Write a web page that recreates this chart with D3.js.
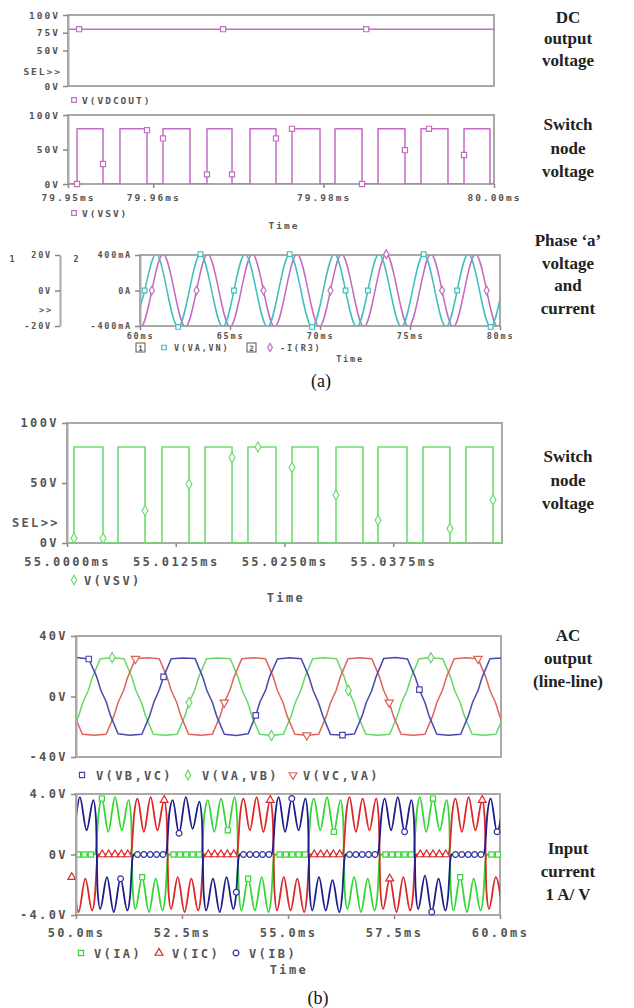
<!DOCTYPE html>
<html>
<head>
<meta charset="utf-8">
<script src="https://cdn.jsdelivr.net/npm/d3@7"></script>
<style>
body { margin: 0; background: #fff; }
.lab { font-family: "DejaVu Sans Mono", monospace; font-weight: bold; fill: #555; }
.side { font-family: "Liberation Serif", "Times New Roman", serif; font-weight: bold; font-size: 17px; fill: #222; text-anchor: middle; }
.cap { font-family: "Liberation Serif", "Times New Roman", serif; font-size: 18px; fill: #111; text-anchor: middle; }
</style>
</head>
<body>
<svg id="fig" width="634" height="1008"></svg>
<script>
// ---------- data ----------

// (a) DC output voltage, V
var dcOut = [[79.95, 80], [80.00, 80]];
var dcMarks = [[79.9513, 80], [79.9682, 80], [79.9850, 80]];

// (a) switch node, edge times in ms, high level in V
var swRiseA = [79.95106, 79.95610, 79.96115, 79.96631, 79.97136, 79.97629, 79.98134, 79.98639, 79.99143, 79.99648];
var swFallA = [79.95411, 79.95927, 79.96432, 79.96925, 79.97441, 79.97958, 79.98451, 79.98955, 79.99460, 79.99953];
var swHighA = 80;
var swMarksA = [[79.95106, 0], [79.95411, 29], [79.95927, 78], [79.96115, 66], [79.96631, 14], [79.96925, 14],
  [79.97441, 66], [79.97629, 80], [79.98451, 0], [79.98955, 49], [79.99237, 80], [79.99648, 42]];

// (a) phase 'a' voltage (V) and current (A)
var vaVN = [[59.64, -20.5], [60.26, 0], [60.88, 20.5], [61.50, 0], [62.12, -20.5], [62.74, 0], [63.36, 20.5], [63.98, 0],
  [64.60, -20.5], [65.22, 0], [65.84, 20.5], [66.46, 0], [67.08, -20.5], [67.70, 0], [68.32, 20.5], [68.94, 0],
  [69.56, -20.5], [70.18, 0], [70.80, 20.5], [71.42, 0], [72.04, -20.5], [72.66, 0], [73.28, 20.5], [73.90, 0],
  [74.52, -20.5], [75.14, 0], [75.76, 20.5], [76.38, 0], [77.00, -20.5], [77.62, 0], [78.24, 20.5], [78.86, 0],
  [79.48, -20.5], [80.10, 0]];
var iR3 = [[59.42, 0], [60.04, -0.41], [60.66, 0], [61.28, 0.41], [61.90, 0], [62.52, -0.41], [63.14, 0], [63.76, 0.41],
  [64.38, 0], [65.00, -0.41], [65.62, 0], [66.24, 0.41], [66.86, 0], [67.48, -0.41], [68.10, 0], [68.72, 0.41],
  [69.34, 0], [69.96, -0.41], [70.58, 0], [71.20, 0.41], [71.82, 0], [72.44, -0.41], [73.06, 0], [73.68, 0.41],
  [74.30, 0], [74.92, -0.41], [75.54, 0], [76.16, 0.41], [76.78, 0], [77.40, -0.41], [78.02, 0], [78.64, 0.41],
  [79.26, 0], [79.88, -0.41], [80.50, 0]];
var vaVNMarks = [[60.26, 0], [62.12, -20.5], [63.36, 20.5], [65.22, 0], [68.32, 20.5], [69.56, -20.5], [71.42, 0],
  [72.66, 0], [75.76, 20.5], [77.62, 0], [79.48, -20.5]];
var iR3Marks = [[60.66, 0], [63.14, 0], [66.86, 0], [70.58, 0], [73.68, 0.41], [76.78, 0], [79.26, 0]];

// (b) switch node
var swRiseB = [55.0008, 55.00586, 55.01092, 55.01586, 55.0208, 55.02586, 55.03092, 55.03575, 55.04092, 55.04586];
var swFallB = [55.00414, 55.00897, 55.01402, 55.01897, 55.02402, 55.02885, 55.03402, 55.03908, 55.04402, 55.04897];
var swHighB = 80;
var swMarksB = [[55.0008, 4], [55.00414, 4], [55.00897, 27], [55.01402, 49], [55.01897, 71], [55.02195, 80],
  [55.02586, 63], [55.03092, 40], [55.03575, 19], [55.04402, 12], [55.04897, 36]];

// (b) AC output line-line voltages, V
var vBC = [[49.23, -13], [49.33, -4], [49.46, 4], [49.56, 13],
  [49.74, 25], [50.02, 25.8], [50.30, 24.8], [50.48, 13.5], [50.58, 4.5], [50.71, -3.5], [50.81, -12.5], [50.99, -24.6], [51.27, -25.6], [51.55, -25], [51.73, -13], [51.83, -4], [51.96, 4.5], [52.06, 13],
  [52.24, 25], [52.52, 25.5], [52.80, 25.2], [52.98, 13], [53.08, 4], [53.21, -4], [53.31, -13], [53.49, -25], [53.77, -25.8], [54.05, -24.7], [54.23, -12.5], [54.33, -3.5], [54.46, 4], [54.56, 13.5],
  [54.74, 24.8], [55.02, 25.6], [55.30, 25], [55.48, 13], [55.58, 4], [55.71, -4.5], [55.81, -13], [55.99, -25.2], [56.27, -25.5], [56.55, -24.8], [56.73, -13], [56.83, -4], [56.96, 4], [57.06, 13],
  [57.24, 25.2], [57.52, 25.8], [57.80, 24.8], [57.98, 13], [58.08, 4.5], [58.21, -4], [58.31, -13], [58.49, -25], [58.77, -25.6], [59.05, -25], [59.23, -13], [59.33, -4], [59.46, 4], [59.56, 13],
  [59.74, 25], [60.02, 25.5], [60.30, 25]];
var vAB = [[49.32, -25], [49.60, -25.6], [49.88, -24.8], [50.06, -13], [50.16, -4], [50.29, 4], [50.39, 13],
  [50.57, 25], [50.85, 25.7], [51.13, 25], [51.31, 13], [51.41, 4], [51.54, -4], [51.64, -13], [51.82, -25], [52.10, -25.6], [52.38, -25], [52.56, -13], [52.66, -4], [52.79, 4], [52.89, 13],
  [53.07, 25], [53.35, 25.5], [53.63, 25], [53.81, 13], [53.91, 4], [54.04, -4], [54.14, -13], [54.32, -25], [54.60, -25.8], [54.88, -25], [55.06, -13], [55.16, -4], [55.29, 4], [55.39, 13],
  [55.57, 25], [55.85, 25.6], [56.13, 25], [56.31, 13], [56.41, 4], [56.54, -4], [56.64, -13], [56.82, -25], [57.10, -25.6], [57.38, -25], [57.56, -13], [57.66, -4], [57.79, 4], [57.89, 13],
  [58.07, 25], [58.35, 25.6], [58.63, 25], [58.81, 13], [58.91, 4], [59.04, -4], [59.14, -13], [59.32, -25], [59.60, -25.6], [59.88, -25], [60.06, -13], [60.16, -4]];
var vCA = [[49.46, 25], [49.64, 13], [49.74, 4], [49.87, -4], [49.97, -13], [50.15, -25], [50.43, -25.6], [50.71, -25], [50.89, -13], [50.99, -4], [51.12, 4], [51.22, 13],
  [51.40, 25], [51.68, 25.6], [51.96, 25], [52.14, 13], [52.24, 4], [52.37, -4], [52.47, -13], [52.65, -25], [52.93, -25.6], [53.21, -25], [53.39, -13], [53.49, -4], [53.62, 4], [53.72, 13],
  [53.90, 25], [54.18, 25.6], [54.46, 25], [54.64, 13], [54.74, 4], [54.87, -4], [54.97, -13], [55.15, -25], [55.43, -25.6], [55.71, -25], [55.89, -13], [55.99, -4], [56.12, 4], [56.22, 13],
  [56.40, 25], [56.68, 25.6], [56.96, 25], [57.14, 13], [57.24, 4], [57.37, -4], [57.47, -13], [57.65, -25], [57.93, -25.6], [58.21, -25], [58.39, -13], [58.49, -4], [58.62, 4], [58.72, 13],
  [58.90, 25], [59.18, 25.6], [59.46, 25], [59.64, 13], [59.74, 4], [59.87, -4], [59.97, -13], [60.15, -25]];
var vBCMarks = [[50.30, 24.8], [52.06, 13], [54.23, -12.5], [56.27, -25.5], [58.08, 4.5]];
var vABMarks = [[50.85, 25.7], [52.66, -4], [54.60, -25.8], [56.41, 4], [58.35, 25.6]];
var vCAMarks = [[51.40, 25], [53.49, -4], [55.43, -25.6], [57.37, -4], [59.46, 25]];

// (b) input currents, V (1 A/V)
var iB = [[49.40, 0], [49.61, 0],
  [49.64, 0.3], [49.70, 2.6], [49.78, 3.7], [49.93, 1.5], [50.09, 3.8], [50.25, 1.6], [50.41, 3.6], [50.47, 2.4], [50.51, -2.4], [50.57, -3.6], [50.73, -1.5], [50.89, -3.8], [51.05, -1.6], [51.21, -3.7], [51.28, -2.6], [51.33, -0.3], [51.36, 0], [52.11, 0],
  [52.14, 0.3], [52.20, 2.7], [52.28, 3.6], [52.43, 1.4], [52.59, 3.8], [52.75, 1.7], [52.91, 3.5], [52.97, 2.3], [53.01, -2.5], [53.07, -3.7], [53.23, -1.6], [53.39, -3.8], [53.55, -1.5], [53.71, -3.6], [53.78, -2.5], [53.83, -0.3], [53.86, 0], [54.61, 0],
  [54.64, 0.3], [54.70, 2.6], [54.78, 3.8], [54.93, 1.5], [55.09, 3.7], [55.25, 1.6], [55.41, 3.7], [55.47, 2.4], [55.51, -2.4], [55.57, -3.7], [55.73, -1.5], [55.89, -3.7], [56.05, -1.7], [56.21, -3.8], [56.28, -2.6], [56.33, -0.3], [56.36, 0], [57.11, 0],
  [57.14, 0.3], [57.20, 2.5], [57.28, 3.7], [57.43, 1.6], [57.59, 3.8], [57.75, 1.5], [57.91, 3.6], [57.97, 2.4], [58.01, -2.3], [58.07, -3.6], [58.23, -1.4], [58.39, -3.8], [58.55, -1.6], [58.71, -3.7], [58.78, -2.6], [58.83, -0.3], [58.86, 0], [59.61, 0],
  [59.64, 0.3], [59.70, 2.6], [59.78, 3.7], [59.93, 1.5], [60.09, 3.8]];
var iA = [[49.48, -1.6], [49.54, -3.7], [49.61, -2.6], [49.66, -0.3], [49.69, 0], [50.44, 0],
  [50.47, 0.3], [50.53, 2.6], [50.61, 3.7], [50.76, 1.5], [50.92, 3.8], [51.08, 1.6], [51.24, 3.6], [51.30, 2.4], [51.34, -2.4], [51.40, -3.6], [51.56, -1.5], [51.72, -3.8], [51.88, -1.6], [52.04, -3.7], [52.11, -2.6], [52.16, -0.3], [52.19, 0], [52.94, 0],
  [52.97, 0.3], [53.03, 2.7], [53.11, 3.6], [53.26, 1.5], [53.42, 3.7], [53.58, 1.6], [53.74, 3.8], [53.80, 2.4], [53.84, -2.4], [53.90, -3.7], [54.06, -1.6], [54.22, -3.7], [54.38, -1.5], [54.54, -3.8], [54.61, -2.6], [54.66, -0.3], [54.69, 0], [55.44, 0],
  [55.47, 0.3], [55.53, 2.6], [55.61, 3.7], [55.76, 1.6], [55.92, 3.8], [56.08, 1.5], [56.24, 3.6], [56.30, 2.4], [56.34, -2.5], [56.40, -3.6], [56.56, -1.5], [56.72, -3.8], [56.88, -1.6], [57.04, -3.7], [57.11, -2.6], [57.16, -0.3], [57.19, 0], [57.94, 0],
  [57.97, 0.3], [58.03, 2.6], [58.11, 3.8], [58.26, 1.5], [58.42, 3.7], [58.58, 1.6], [58.74, 3.6], [58.80, 2.4], [58.84, -2.4], [58.90, -3.7], [59.06, -1.5], [59.22, -3.8], [59.38, -1.6], [59.54, -3.7], [59.61, -2.6], [59.66, -0.3], [59.69, 0], [60.44, 0]];
var iC = [[49.42, 3.7], [49.58, 3.6], [49.64, 2.4],
  [49.68, -2.4], [49.74, -3.6], [49.90, -1.5], [50.06, -3.8], [50.22, -1.6], [50.38, -3.7], [50.45, -2.6], [50.50, -0.3], [50.53, 0], [51.28, 0],
  [51.31, 0.3], [51.37, 2.6], [51.45, 3.7], [51.60, 1.5], [51.76, 3.8], [51.92, 1.6], [52.08, 3.6], [52.14, 2.4], [52.18, -2.4], [52.24, -3.6], [52.40, -1.5], [52.56, -3.8], [52.72, -1.6], [52.88, -3.7], [52.95, -2.6], [53.00, -0.3], [53.03, 0], [53.78, 0],
  [53.81, 0.3], [53.87, 2.6], [53.95, 3.7], [54.10, 1.6], [54.26, 3.8], [54.42, 1.5], [54.58, 3.6], [54.64, 2.4], [54.68, -2.4], [54.74, -3.7], [54.90, -1.5], [55.06, -3.7], [55.22, -1.6], [55.38, -3.8], [55.45, -2.6], [55.50, -0.3], [55.53, 0], [56.28, 0],
  [56.31, 0.3], [56.37, 2.6], [56.45, 3.8], [56.60, 1.5], [56.76, 3.7], [56.92, 1.6], [57.08, 3.7], [57.14, 2.4], [57.18, -2.4], [57.24, -3.6], [57.40, -1.6], [57.56, -3.8], [57.72, -1.5], [57.88, -3.7], [57.95, -2.6], [58.00, -0.3], [58.03, 0], [58.78, 0],
  [58.81, 0.3], [58.87, 2.6], [58.95, 3.7], [59.10, 1.5], [59.26, 3.8], [59.42, 1.6], [59.58, 3.6], [59.64, 2.4], [59.68, -2.4], [59.74, -3.6], [59.90, -1.5], [60.06, -3.8]];
var iAMarks = [[50.05, 0], [50.20, 0], [50.35, 0], [50.61, 3.7], [51.56, -1.5], [52.30, 0], [52.45, 0], [52.60, 0], [52.75, 0], [52.90, 0],
  [53.58, 1.6], [54.06, -1.6], [54.80, 0], [54.95, 0], [55.10, 0], [55.25, 0], [55.40, 0], [56.08, 1.5], [57.30, 0], [57.45, 0],
  [57.60, 0], [57.75, 0], [57.90, 0], [58.42, 3.7], [59.06, -1.5], [59.80, 0], [59.95, 0]];
var iCMarks = [[49.90, -1.5], [50.62, 0], [50.77, 0], [50.92, 0], [51.07, 0], [51.22, 0], [52.08, 3.6], [53.12, 0], [53.27, 0], [53.42, 0],
  [53.57, 0], [53.72, 0], [54.58, 3.6], [55.62, 0], [55.77, 0], [55.92, 0], [56.07, 0], [56.22, 0], [57.40, -1.6], [58.12, 0],
  [58.27, 0], [58.42, 0], [58.57, 0], [58.72, 0], [59.58, 3.6]];
var iBMarks = [[51.05, -1.6], [51.45, 0], [51.60, 0], [51.75, 0], [51.90, 0], [52.05, 0], [52.43, 1.4], [53.78, -2.5], [53.95, 0], [54.10, 0],
  [54.25, 0], [54.40, 0], [54.55, 0], [55.09, 3.7], [56.45, 0], [56.60, 0], [56.75, 0], [56.90, 0], [57.05, 0], [57.75, 1.5],
  [58.39, -3.8], [58.95, 0], [59.10, 0], [59.25, 0], [59.40, 0], [59.55, 0], [59.93, 1.5]];

// tick labels
var tickA2 = [79.95, 79.96, 79.98, 80.00];
var tickA3 = [60, 65, 70, 75, 80];
var tickB4 = [55.0, 55.0125, 55.025, 55.0375];
var tickB6 = [50, 52.5, 55, 57.5, 60];

// ---------- drawing ----------
var svg = d3.select("#fig");
var clipN = 0;
var BOX = "#a9a9a9";

function panel(x0, x1, y0, y1, tdom, vdom) {
  var x = d3.scaleLinear().domain(tdom).range([x0, x1]);
  var y = d3.scaleLinear().domain(vdom).range([y1, y0]);
  var id = "clip" + (clipN++);
  svg.append("clipPath").attr("id", id).append("rect")
    .attr("x", x0).attr("y", y0).attr("width", x1 - x0).attr("height", y1 - y0);
  var g = svg.append("g");
  g.append("rect").attr("x", x0).attr("y", y0).attr("width", x1 - x0).attr("height", y1 - y0)
    .attr("fill", "#fff").attr("stroke", BOX).attr("stroke-width", 2);
  var plot = g.append("g").attr("clip-path", "url(#" + id + ")");
  return {x: x, y: y, g: g, plot: plot, x0: x0, x1: x1, y0: y0, y1: y1};
}

function trace(p, data, color, width, curve) {
  p.plot.append("path").datum(data)
    .attr("fill", "none").attr("stroke", color).attr("stroke-width", width)
    .attr("stroke-linejoin", "round")
    .attr("d", d3.line().x(function(d) { return p.x(d[0]); }).y(function(d) { return p.y(d[1]); })
      .curve(curve || d3.curveLinear));
}

function pulses(rise, fall, high, t0, t1) {
  var pts = [[t0, 0]];
  rise.forEach(function(r, i) {
    pts.push([r, 0], [r, high], [fall[i], high], [fall[i], 0]);
  });
  pts.push([t1, 0]);
  return pts;
}

function marks(p, data, color, type, size, flip) {
  p.g.selectAll(null).data(data).enter().append("path")
    .attr("transform", function(d) { return "translate(" + p.x(d[0]) + "," + p.y(d[1]) + ")" + (flip ? " rotate(180)" : ""); })
    .attr("d", d3.symbol().type(type).size(size))
    .attr("fill", "#fff").attr("stroke", color).attr("stroke-width", 1.2);
}

function yAxis(p, scale, xpos, vals, fmt, fs, ls) {
  var g = p.g.append("g").attr("transform", "translate(" + xpos + ",0)")
    .call(d3.axisLeft(scale).tickValues(vals).tickFormat(fmt).tickSize(5).tickSizeOuter(0).tickPadding(3));
  g.select(".domain").attr("stroke", BOX).attr("stroke-width", 2);
  g.selectAll(".tick line").attr("stroke", "#888").attr("stroke-width", 1.5);
  g.selectAll("text").attr("class", "lab").style("font-size", fs + "px").style("letter-spacing", ls + "px");
  return g;
}

function xAxis(p, vals, fmt, fs, ls, off) {
  var g = p.g.append("g").attr("transform", "translate(0," + p.y1 + ")")
    .call(d3.axisBottom(p.x).tickValues(vals).tickFormat(fmt).tickSize(4).tickSizeOuter(0));
  g.select(".domain").remove();
  g.selectAll(".tick line").attr("stroke", "#888").attr("stroke-width", 1.5);
  g.selectAll("text").attr("class", "lab").attr("y", off).attr("dy", null)
    .style("font-size", fs + "px").style("letter-spacing", ls + "px");
}

function label(x, y, txt, fs, ls, anchor) {
  return svg.append("text").attr("class", "lab").attr("x", x).attr("y", y)
    .attr("text-anchor", anchor || "start")
    .style("font-size", fs + "px").style("letter-spacing", ls + "px").text(txt);
}

function legSym(x, y, color, type, size, flip) {
  svg.append("path")
    .attr("transform", "translate(" + x + "," + y + ")" + (flip ? " rotate(180)" : ""))
    .attr("d", d3.symbol().type(type).size(size))
    .attr("fill", "#fff").attr("stroke", color).attr("stroke-width", 1.2);
}

var MAG = "#c36cc3", CYA = "#3fbfbf", LGR = "#6fdc6f";
var fa = 9.5, la = 2;    // small PSpice font (a)
var fc = 8.5, lc = 1.8;  // phase 'a' panel font
var fb = 12, lb = 2.4;   // larger PSpice font (b)

// ---- (a) DC output voltage
var p1 = panel(68, 494, 15, 86, [79.95, 80.00], [0, 100]);
trace(p1, dcOut, MAG, 1.5);
marks(p1, dcMarks, MAG, d3.symbolSquare, 26);
yAxis(p1, p1.y, 68, [0, 50, 75, 100], function(d) { return d + "V"; }, fa, la);
label(62, 75, "SEL>>", fa, la, "end");
legSym(74, 100, MAG, d3.symbolSquare, 22);
label(82, 103.5, "V(VDCOUT)", fa, la);

// ---- (a) switch node voltage
var p2 = panel(68, 494, 115, 184, [79.95, 80.00], [0, 100]);
trace(p2, pulses(swRiseA, swFallA, swHighA, 79.95, 80.00), MAG, 1.5);
marks(p2, swMarksA, MAG, d3.symbolSquare, 26);
yAxis(p2, p2.y, 68, [0, 50, 100], function(d) { return d + "V"; }, fa, la);
xAxis(p2, tickA2, function(d) { return d.toFixed(2) + "ms"; }, fa, la, 17);
legSym(74, 213, MAG, d3.symbolSquare, 22);
label(82, 216.5, "V(VSV)", fa, la);
label(284, 228.5, "Time", fa, la, "middle");

// ---- (a) phase 'a' voltage and current
var p3 = panel(140, 500, 255, 326, [60, 80], [-0.4, 0.4]);
var yV3 = d3.scaleLinear().domain([-20, 20]).range([326, 255]);
trace(p3, iR3, MAG, 1.5, d3.curveNatural);
trace({x: p3.x, y: yV3, plot: p3.plot}, vaVN, CYA, 1.5, d3.curveNatural);
marks({x: p3.x, y: yV3, g: p3.g}, vaVNMarks, CYA, d3.symbolSquare, 22);
marks(p3, iR3Marks, MAG, d3.symbolDiamond, 22);
yAxis(p3, yV3, 60, [-20, 0, 20], function(d) { return d + "V"; }, fc, lc);
yAxis(p3, p3.y, 140, [-0.4, 0, 0.4], function(d) { return d === 0 ? "0A" : (d * 1000) + "mA"; }, fc, lc);
label(46, 313, ">>", fc, lc, "middle");
label(13, 262, "1", fc, lc, "middle");
label(77, 262, "2", fc, lc, "middle");
xAxis(p3, tickA3, function(d) { return d + "ms"; }, fc, lc, 13);
svg.append("rect").attr("x", 136).attr("y", 343).attr("width", 9).attr("height", 9).attr("fill", "none").attr("stroke", "#555");
label(140.5, 350.5, "1", 7.5, 0, "middle");
legSym(164, 347.5, CYA, d3.symbolSquare, 20);
label(174, 351, "V(VA,VN)", fc, lc);
svg.append("rect").attr("x", 247).attr("y", 343).attr("width", 9).attr("height", 9).attr("fill", "none").attr("stroke", "#555");
label(251.5, 350.5, "2", 7.5, 0, "middle");
legSym(270, 347.5, MAG, d3.symbolDiamond, 20);
label(280, 351, "-I(R3)", fc, lc);
label(350, 362, "Time", fc, lc, "middle");

svg.append("text").attr("class", "cap").attr("x", 321).attr("y", 387).text("(a)");

// ---- (b) switch node voltage
var p4 = panel(67, 502, 423, 543, [55.0, 55.05], [0, 100]);
trace(p4, pulses(swRiseB, swFallB, swHighB, 55.0, 55.05), LGR, 1.6);
marks(p4, swMarksB, LGR, d3.symbolDiamond, 30);
yAxis(p4, p4.y, 67, [0, 50, 100], function(d) { return d + "V"; }, fb, lb);
label(60, 527, "SEL>>", fb, lb, "end");
xAxis(p4, tickB4, function(d) { return d.toFixed(4) + "ms"; }, fb, lb, 23);
legSym(74, 580, LGR, d3.symbolDiamond, 26);
label(84, 584.5, "V(VSV)", fb, lb);
label(286, 602, "Time", fb, lb, "middle");

// ---- (b) AC output (line-line)
var p5 = panel(76, 501, 636, 757, [50, 60], [-40, 40]);
trace(p5, vAB, "#6ad66a", 1.5);
trace(p5, vCA, "#e0625a", 1.5);
trace(p5, vBC, "#4848b0", 1.5);
marks(p5, vABMarks, "#6ad66a", d3.symbolDiamond, 30);
marks(p5, vCAMarks, "#e0625a", d3.symbolTriangle, 30, true);
marks(p5, vBCMarks, "#4848b0", d3.symbolSquare, 30);
yAxis(p5, p5.y, 76, [-40, 0, 40], function(d) { return d + "V"; }, fb, lb);
legSym(82, 775, "#4848b0", d3.symbolSquare, 26);
label(96, 779.5, "V(VB,VC)", fb, lb);
legSym(188, 775, "#6ad66a", d3.symbolDiamond, 26);
label(202, 779.5, "V(VA,VB)", fb, lb);
legSym(293, 775, "#e0625a", d3.symbolTriangle, 26, true);
label(303, 779.5, "V(VC,VA)", fb, lb);

// ---- (b) input current
var p6 = panel(76, 500, 794, 915, [50, 60], [-4, 4]);
trace(p6, iA, "#33d633", 1.8, d3.curveMonotoneX);
trace(p6, iC, "#dd2626", 1.8, d3.curveMonotoneX);
trace(p6, iB, "#1c1c8c", 1.8, d3.curveMonotoneX);
marks(p6, iAMarks, "#33d633", d3.symbolSquare, 26);
marks(p6, iCMarks, "#dd2626", d3.symbolTriangle, 26);
marks(p6, iBMarks, "#3030a0", d3.symbolCircle, 26);
yAxis(p6, p6.y, 76, [-4, 0, 4], function(d) { return d === 0 ? "0V" : d.toFixed(1) + "V"; }, fb, lb);
xAxis(p6, tickB6, function(d) { return d.toFixed(1) + "ms"; }, fb, lb, 22);
legSym(81, 953, "#33d633", d3.symbolSquare, 26);
label(94, 957.5, "V(IA)", fb, lb);
legSym(159, 953, "#dd2626", d3.symbolTriangle, 26);
label(172, 957.5, "V(IC)", fb, lb);
legSym(236, 953, "#3030a0", d3.symbolCircle, 26);
label(249, 957.5, "V(IB)", fb, lb);
label(289, 974, "Time", fb, lb, "middle");

svg.append("text").attr("class", "cap").attr("x", 318).attr("y", 1004).text("(b)");

// ---- side captions
var side = [
  ["DC", 23], ["output", 44], ["voltage", 66],
  ["Switch", 130], ["node", 154], ["voltage", 177],
  ["Phase \u2018a\u2019", 246], ["voltage", 269], ["and", 291], ["current", 314],
  ["Switch", 462], ["node", 486], ["voltage", 509],
  ["AC", 641], ["output", 664], ["(line-line)", 687],
  ["Input", 854], ["current", 877], ["1 A/ V", 900]
];
svg.selectAll(null).data(side).enter().append("text").attr("class", "side")
  .attr("x", 568).attr("y", function(d) { return d[1]; }).text(function(d) { return d[0]; });
</script>
</body>
</html>
